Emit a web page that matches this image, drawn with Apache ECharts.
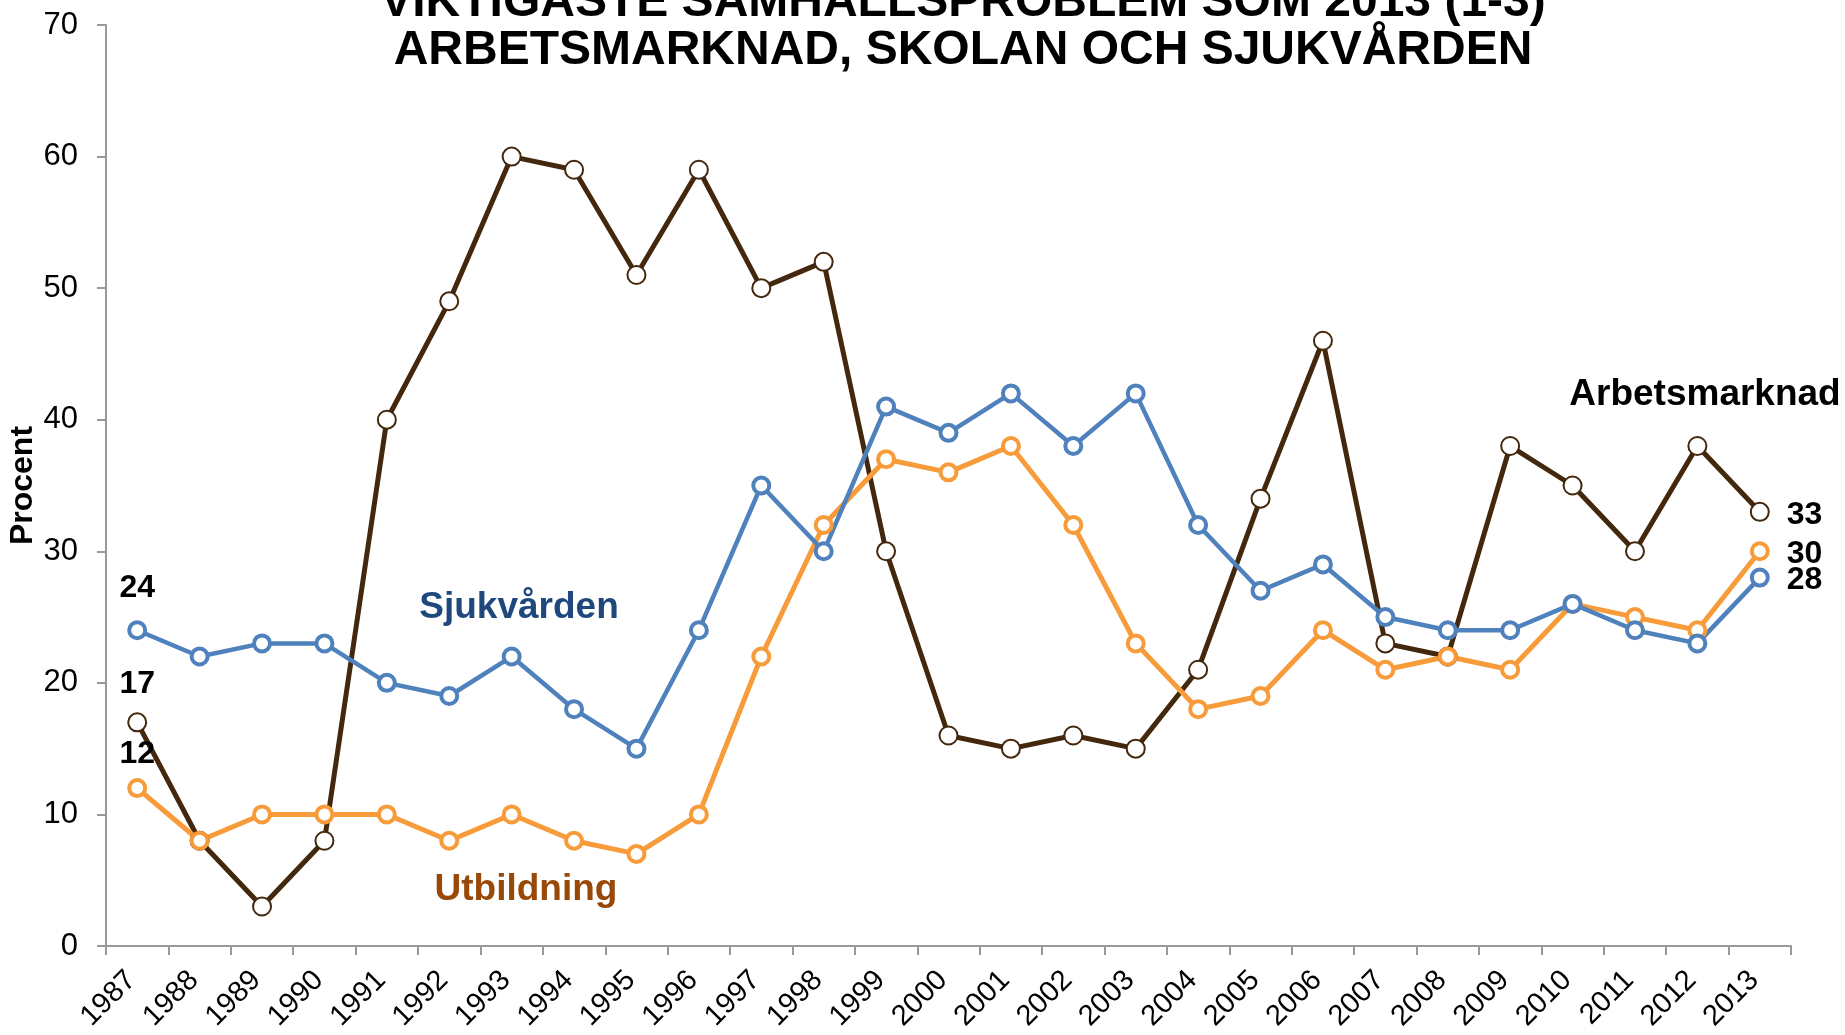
<!DOCTYPE html>
<html>
<head>
<meta charset="utf-8">
<script src="https://cdn.jsdelivr.net/npm/echarts@6/dist/echarts.min.js"></script>
<style>
html,body{margin:0;padding:0;background:#fff;}
#chart{width:1845px;height:1035px;}
</style>
</head>
<body>
<div id="chart"></div>
<script>
var years = ['1987','1988','1989','1990','1991','1992','1993','1994','1995','1996','1997','1998','1999','2000','2001','2002','2003','2004','2005','2006','2007','2008','2009','2010','2011','2012','2013'];
var arbetsmarknad = [17,8,3,8,40,49,60,59,51,59,50,52,30,16,15,16,15,21,34,46,23,22,38,35,30,38,33];
var utbildning = [12,8,10,10,10,8,10,8,7,10,22,32,37,36,38,32,23,18,19,24,21,22,21,26,25,24,30];
var sjukvarden = [24,22,23,23,20,19,22,18,15,24,35,30,41,39,42,38,42,32,27,29,25,24,24,26,24,23,28];
var yTicks = [0,10,20,30,40,50,60,70];

var FONT = '"Liberation Sans", Arial, sans-serif';
var BROWN = '#43280D', ORANGE = '#F79B3B', BLUE = '#4F81BD';

function withEndLabels(arr, firstDist) {
  return arr.map(function (v, i) {
    if (i === 0) {
      return {value: v, label: {show: true, position: 'top', distance: firstDist, color: '#000', fontFamily: FONT, fontWeight: 'bold', fontSize: 32}};
    }
    if (i === arr.length - 1) {
      return {value: v, label: {show: true, position: 'right', distance: 17, offset: [0, 3], color: '#000', fontFamily: FONT, fontWeight: 'bold', fontSize: 32}};
    }
    return v;
  });
}

function makeSeries(name, arr, color, lw, size, bw, firstDist) {
  return {
    name: name, type: 'line', data: withEndLabels(arr, firstDist),
    symbol: 'circle', symbolSize: size, showAllSymbol: true,
    lineStyle: {color: color, width: lw},
    itemStyle: {color: '#fff', borderColor: color, borderWidth: bw},
    emphasis: {disabled: true},
    animation: false
  };
}

var chart = echarts.init(document.getElementById('chart'), null, {renderer: 'canvas'});
chart.setOption({
  backgroundColor: '#fff',
  animation: false,
  title: {
    text: 'VIKTIGASTE SAMHÄLLSPROBLEM SOM 2013 (1-3)\nARBETSMARKNAD, SKOLAN OCH SJUKVÅRDEN',
    left: 958, top: -26, textAlign: 'center',
    textStyle: {fontFamily: FONT, fontWeight: 'bold', fontSize: 48, lineHeight: 48, color: '#000'}
  },
  grid: {left: 106, right: 54, top: 25, bottom: 89, containLabel: false, outerBoundsMode: 'none'},
  xAxis: {
    type: 'category', data: years, boundaryGap: true,
    axisLine: {lineStyle: {color: '#999', width: 2}},
    axisTick: {show: true, length: 9, alignWithLabel: false, lineStyle: {color: '#999', width: 2}},
    axisLabel: {rotate: 45, interval: 0, margin: 24, padding: [0, 8, 0, 0], color: '#000', fontFamily: FONT, fontSize: 29}
  },
  yAxis: {
    type: 'value', min: yTicks[0], max: yTicks[yTicks.length - 1], interval: 10,
    name: 'Procent', nameLocation: 'middle', nameGap: 67, nameRotate: 90, nameMoveOverlap: false,
    nameTextStyle: {fontFamily: FONT, fontWeight: 'bold', fontSize: 32, color: '#000'},
    splitLine: {show: false},
    axisLine: {show: true, lineStyle: {color: '#999', width: 2}},
    axisTick: {show: true, length: 9, lineStyle: {color: '#999', width: 2}},
    axisLabel: {margin: 28, color: '#000', fontFamily: FONT, fontSize: 31}
  },
  series: [
    makeSeries('Arbetsmarknad', arbetsmarknad, BROWN, 5, 18, 2, 12),
    makeSeries('Utbildning', utbildning, ORANGE, 5, 16, 4, 8),
    makeSeries('Sjukvården', sjukvarden, BLUE, 4.5, 16, 4, 16)
  ],
  graphic: [
    {type: 'text', x: 519, y: 608, style: {text: 'Sjukvården', fill: '#1F497D', font: 'bold 37px ' + FONT, textAlign: 'center', textVerticalAlign: 'middle'}},
    {type: 'text', x: 526, y: 890, style: {text: 'Utbildning', fill: '#984807', font: 'bold 37px ' + FONT, textAlign: 'center', textVerticalAlign: 'middle'}},
    {type: 'text', x: 1705, y: 395, style: {text: 'Arbetsmarknad', fill: '#000', font: 'bold 37px ' + FONT, textAlign: 'center', textVerticalAlign: 'middle'}}
  ]
});
</script>
</body>
</html>
